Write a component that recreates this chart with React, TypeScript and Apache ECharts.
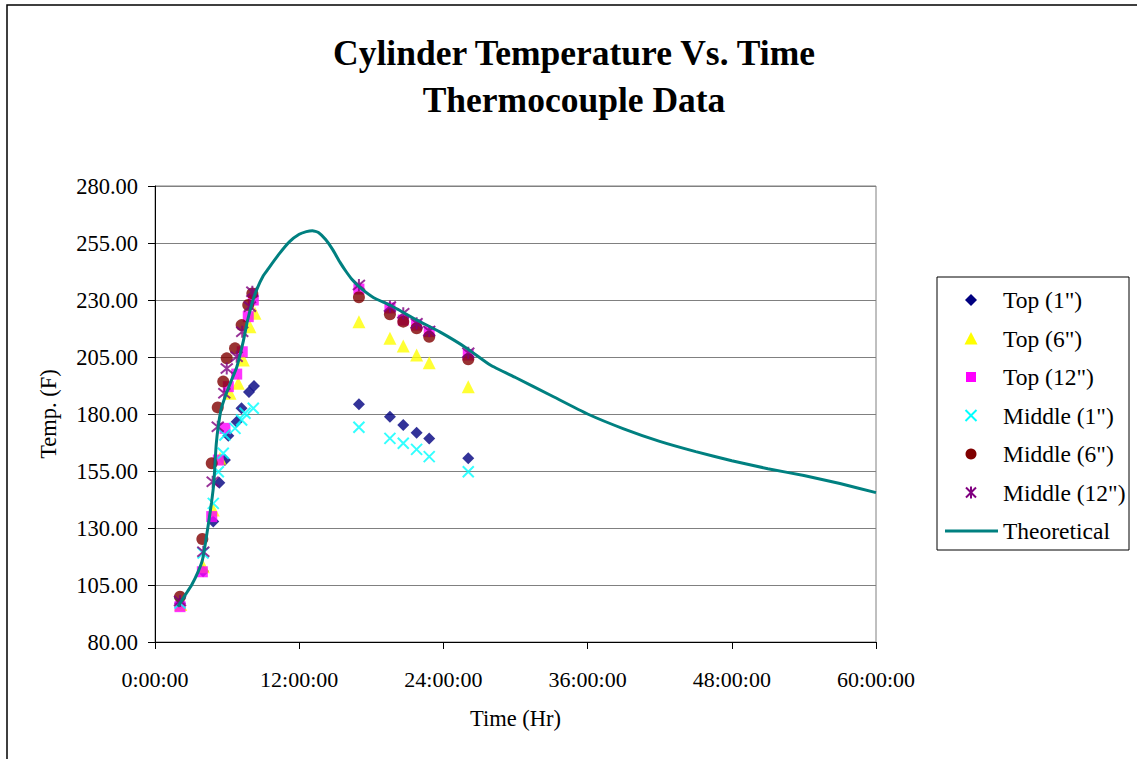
import React, { useEffect, useRef } from "react";
import * as echarts from "echarts";

// [time (hours), temperature (F)]
const topOne: number[][] = [
  [2.08, 97], [4.0, 111], [4.85, 132.8], [5.35, 149.9], [5.82, 159.8], [6.1, 170.5],
  [6.8, 176.6], [7.2, 182.5], [7.82, 189.6], [8.24, 192.3],
  [16.97, 184.3], [19.55, 178.8], [20.66, 175.2], [21.77, 171.8], [22.82, 169.3], [26.07, 160.6],
];
const topSix: number[][] = [
  [2.15, 96.5], [4.02, 113.0], [4.85, 137.9], [5.41, 160.6], [6.24, 189.1], [6.93, 193.5],
  [7.35, 203.7], [7.9, 218.3], [8.32, 224.2],
  [16.97, 220.5], [19.55, 213.2], [20.66, 209.8], [21.77, 205.9], [22.82, 202.5], [26.07, 192.0],
];
const topTwelve: number[][] = [
  [2.08, 95.5], [3.94, 110.8], [4.72, 135.0], [5.27, 159.8], [5.82, 173.7], [6.1, 192.0],
  [6.8, 197.5], [7.26, 207.3], [7.76, 222.7], [8.18, 230.0],
  [16.97, 234.8], [19.55, 226.5], [20.66, 221.2], [21.77, 219.0], [22.82, 216.1], [26.07, 205.9],
];
const middleOne: number[][] = [
  [2.08, 97.1], [4.0, 119], [4.85, 140.8], [5.27, 154.7], [5.68, 162.8], [5.82, 170.8],
  [6.66, 173.7], [7.21, 177.4], [7.49, 180.3], [8.18, 182.5],
  [16.97, 174.2], [19.55, 169.3], [20.66, 167.2], [21.77, 164.5], [22.82, 161.3], [26.07, 154.7],
];
const middleSix: number[][] = [
  [2.08, 99.9], [3.94, 125.2], [4.72, 158.4], [5.22, 182.9], [5.68, 194.2], [5.97, 204.4],
  [6.66, 208.8], [7.21, 219.0], [7.76, 227.8], [8.1, 232.9],
  [16.97, 231.2], [19.55, 223.7], [20.66, 220.5], [21.77, 217.6], [22.82, 213.9], [26.07, 204.0],
];
const middleTwelve: number[][] = [
  [2.08, 98.0], [4.02, 119.6], [4.8, 150.3], [5.22, 174.4], [5.77, 189.1], [5.97, 200.0],
  [6.8, 205.1], [7.26, 216.1], [7.9, 227.1], [8.1, 233.6],
  [16.97, 236.6], [19.55, 227.1], [20.66, 224.2], [21.77, 219.8], [22.82, 216.4], [26.07, 206.9],
];
const theoretical: number[][] = [
  [1.9, 95.5], [2.5, 100.5], [3.05, 105], [3.6, 111], [3.95, 116], [4.2, 123.5], [4.45, 132],
  [4.7, 141], [4.9, 150], [5.0, 159], [5.1, 167], [5.25, 174], [5.5, 182], [5.9, 188.5],
  [6.3, 194], [6.8, 200.5], [7.35, 212], [7.7, 221], [8.1, 229], [8.5, 235], [9.0, 240.5],
  [9.4, 243.5], [10.3, 250], [11.2, 255.6], [12.0, 258.8], [12.6, 260], [13.1, 260.4],
  [13.6, 259.6], [14.2, 256.5], [14.8, 252], [15.4, 246.5], [15.9, 242.5], [16.4, 239], [17.05, 235.5],
  [18.2, 231], [19.55, 227.8], [21.8, 221.2], [23.7, 216], [25.9, 209], [27.9, 201.5],
  [30, 196], [33, 188], [36, 180], [39, 173.5], [42, 168], [45, 163.5], [48, 159.5],
  [51, 156], [54, 153], [57, 149.5], [60, 145.5],
];

const seriesNames = ['Top (1")', 'Top (6")', 'Top (12")', 'Middle (1")', 'Middle (6")', 'Middle (12")', "Theoretical"];
const titleLines = ["Cylinder Temperature Vs. Time", "Thermocouple Data"];

const FONT = '"Times New Roman", "Liberation Serif", serif';
const X_PATH = "path://M0,0L10,10M10,0L0,10";
const STAR_PATH = "path://M0,0L10,10M10,0L0,10M5,-1L5,11";

export default function App() {
  const ref = useRef<HTMLDivElement>(null);
  useEffect(() => {
    const chart = echarts.init(ref.current!, null, { renderer: "svg" });
    const lx = 971;
    const ly = [300, 338.5, 377, 415.5, 454, 492.5, 531];
    const legendTexts = seriesNames.map((n, i) => ({
      type: "text",
      x: 1003,
      y: ly[i],
      style: { text: n, font: `23.5px ${FONT}`, fill: "#000", textVerticalAlign: "middle", verticalAlign: "middle" },
    }));
    chart.setOption({
      animation: false,
      backgroundColor: "#fff",
      textStyle: { fontFamily: FONT, color: "#000" },
      title: {
        text: titleLines.join("\n"),
        left: 569,
        top: 24,
        textAlign: "center",
        textStyle: { fontFamily: FONT, fontSize: 35.5, fontWeight: "bold", color: "#000", lineHeight: 47 },
      },
      grid: {
        left: 155, top: 186, width: 721, height: 456,
        show: true, borderColor: "#808080", borderWidth: 1, backgroundColor: "transparent",
      },
      xAxis: {
        type: "value", min: 0, max: 60, interval: 12,
        name: "Time (Hr)", nameLocation: "middle", nameGap: 65,
        nameTextStyle: { fontFamily: FONT, fontSize: 22.5, color: "#000" },
        axisLine: { show: true, onZero: false, lineStyle: { color: "#000", width: 1 } },
        axisTick: { show: true, length: 7, lineStyle: { color: "#000" } },
        axisLabel: { formatter: (v: number) => `${v}:00:00`, fontFamily: FONT, fontSize: 22, color: "#000", margin: 26 },
        splitLine: { show: false },
      },
      yAxis: {
        type: "value", min: 80, max: 280, interval: 25,
        name: "Temp. (F)", nameLocation: "middle", nameGap: 95, nameRotate: 90,
        nameTextStyle: { fontFamily: FONT, fontSize: 22.5, color: "#000" },
        axisLine: { show: true, onZero: false, lineStyle: { color: "#000", width: 1 } },
        axisTick: { show: true, length: 7, lineStyle: { color: "#000" } },
        axisLabel: { formatter: (v: number) => v.toFixed(2), fontFamily: FONT, fontSize: 22.5, color: "#000", margin: 17 },
        splitLine: { show: true, lineStyle: { color: "#808080", width: 1 } },
      },
      series: [
        { name: seriesNames[0], type: "scatter", data: topOne, symbol: "diamond", symbolSize: 12, itemStyle: { color: "#000080" }, silent: true },
        { name: seriesNames[1], type: "scatter", data: topSix, symbol: "triangle", symbolSize: 13, itemStyle: { color: "#FFFF00" }, silent: true },
        { name: seriesNames[2], type: "scatter", data: topTwelve, symbol: "rect", symbolSize: 11, itemStyle: { color: "#FF00FF" }, silent: true },
        { name: seriesNames[3], type: "scatter", data: middleOne, symbol: X_PATH, symbolSize: 11, itemStyle: { color: "transparent", borderColor: "#00FFFF", borderWidth: 2 }, silent: true },
        { name: seriesNames[4], type: "scatter", data: middleSix, symbol: "circle", symbolSize: 12, itemStyle: { color: "#800000" }, silent: true },
        { name: seriesNames[5], type: "scatter", data: middleTwelve, symbol: STAR_PATH, symbolSize: 12, itemStyle: { color: "transparent", borderColor: "#800080", borderWidth: 2 }, silent: true },
        { name: seriesNames[6], type: "line", data: theoretical, showSymbol: false, smooth: 0.15, lineStyle: { color: "#008080", width: 3 }, silent: true },
      ],
      graphic: [
        { type: "rect", shape: { x: 7, y: 5, width: 1200, height: 800 }, style: { fill: "none", stroke: "#000", lineWidth: 1.5 }, silent: true },
        { type: "rect", shape: { x: 937, y: 277, width: 192, height: 273 }, style: { fill: "#fff", stroke: "#000", lineWidth: 1 }, silent: true },
        { type: "polygon", shape: { points: [[lx, ly[0] - 6], [lx + 6, ly[0]], [lx, ly[0] + 6], [lx - 6, ly[0]]] }, style: { fill: "#000080" } },
        { type: "polygon", shape: { points: [[lx, ly[1] - 6.5], [lx + 6.5, ly[1] + 6], [lx - 6.5, ly[1] + 6]] }, style: { fill: "#FFFF00" } },
        { type: "rect", shape: { x: lx - 5, y: ly[2] - 5, width: 10, height: 10 }, style: { fill: "#FF00FF" } },
        { type: "line", shape: { x1: lx - 5.5, y1: ly[3] - 5.5, x2: lx + 5.5, y2: ly[3] + 5.5 }, style: { stroke: "#00FFFF", lineWidth: 2 } },
        { type: "line", shape: { x1: lx + 5.5, y1: ly[3] - 5.5, x2: lx - 5.5, y2: ly[3] + 5.5 }, style: { stroke: "#00FFFF", lineWidth: 2 } },
        { type: "circle", shape: { cx: lx, cy: ly[4], r: 5.5 }, style: { fill: "#800000" } },
        { type: "line", shape: { x1: lx - 5, y1: ly[5] - 5, x2: lx + 5, y2: ly[5] + 5 }, style: { stroke: "#800080", lineWidth: 2 } },
        { type: "line", shape: { x1: lx + 5, y1: ly[5] - 5, x2: lx - 5, y2: ly[5] + 5 }, style: { stroke: "#800080", lineWidth: 2 } },
        { type: "line", shape: { x1: lx, y1: ly[5] - 6, x2: lx, y2: ly[5] + 6 }, style: { stroke: "#800080", lineWidth: 2 } },
        { type: "line", shape: { x1: 945, y1: ly[6], x2: 998, y2: ly[6] }, style: { stroke: "#008080", lineWidth: 3 } },
        ...legendTexts,
      ],
    });
    return () => chart.dispose();
  }, []);
  return (
    <div
      ref={ref}
      style={{ position: "fixed", left: 0, top: 0, width: 1137, height: 759, background: "#fff" }}
    />
  );
}
